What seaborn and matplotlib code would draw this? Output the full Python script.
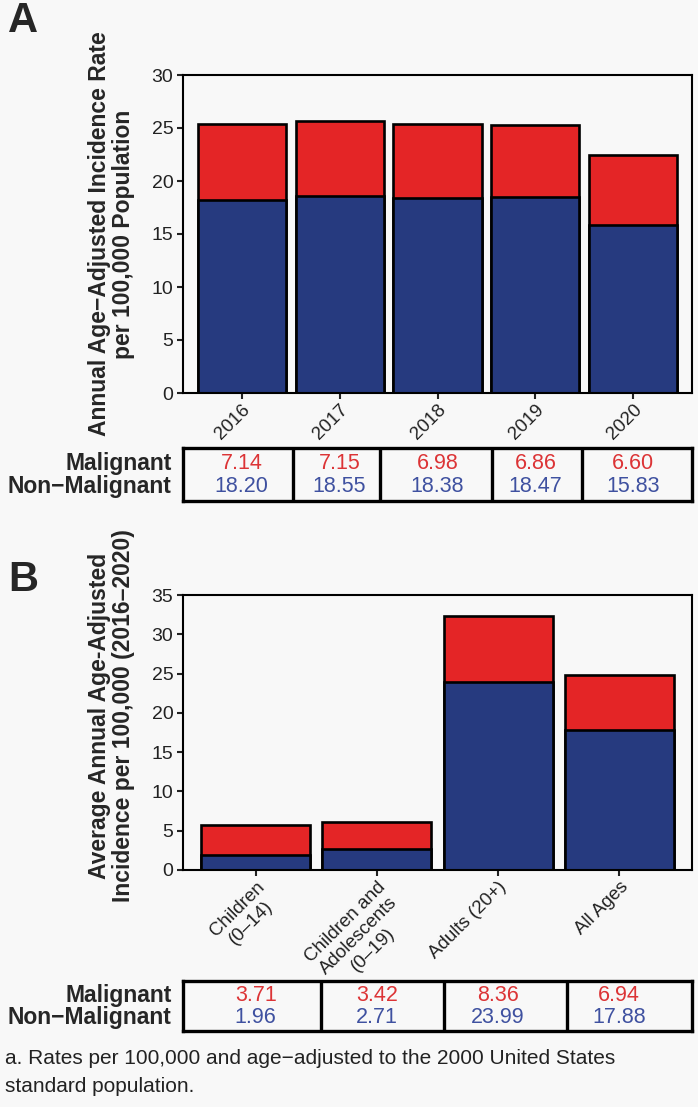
import matplotlib
matplotlib.use("Agg")
import matplotlib.pyplot as plt
import seaborn as sns

# Panel A data: annual rates
years = ["2016", "2017", "2018", "2019", "2020"]
malignant_a = [7.14, 7.15, 6.98, 6.86, 6.60]
nonmalignant_a = [18.20, 18.55, 18.38, 18.47, 15.83]

# Panel B data: average annual rates by age group
groups = ["Children\n(0\u201314)", "Children and\nAdolescents\n(0\u201319)",
          "Adults (20+)", "All Ages"]
malignant_b = [3.71, 3.42, 8.36, 6.94]
nonmalignant_b = [1.96, 2.71, 23.99, 17.88]

RED = "#e42526"
BLUE = "#263a7f"
TXT_RED = "#dc3436"
TXT_BLUE = "#3f51a0"
BG = "#f8f8f8"

sns.set_theme(style="ticks")
plt.rcParams["font.family"] = ["Liberation Sans", "DejaVu Sans"]
plt.rcParams["axes.linewidth"] = 1.5
plt.rcParams["xtick.major.width"] = 1.5
plt.rcParams["ytick.major.width"] = 1.5
plt.rcParams["xtick.major.size"] = 4
plt.rcParams["ytick.major.size"] = 4
plt.rcParams["xtick.color"] = "#222222"
plt.rcParams["ytick.color"] = "#222222"

W, H = 698, 1107
fig = plt.figure(figsize=(W / 100, H / 100), dpi=100, facecolor=BG)


def box(left, top, right, bottom):
    return [left / W, 1 - bottom / H, (right - left) / W, (bottom - top) / H]


def stacked(ax, cats, mal, nonmal, ymax, ystep):
    totals = [m + n for m, n in zip(mal, nonmal)]
    sns.barplot(x=cats, y=totals, color=RED, saturation=1, width=0.9,
                edgecolor="black", linewidth=1.9, ax=ax)
    sns.barplot(x=cats, y=nonmal, color=BLUE, saturation=1, width=0.9,
                edgecolor="black", linewidth=1.9, ax=ax)
    ax.set_facecolor(BG)
    ax.set_xlim(-0.6, len(cats) - 0.4)
    ax.set_ylim(0, ymax)
    ax.set_yticks(range(0, ymax + 1, ystep))
    ax.tick_params(axis="y", labelsize=14, pad=3)
    ax.tick_params(axis="x", labelsize=13.5, pad=2)
    for s in ax.spines.values():
        s.set_visible(True)
        s.set_color("black")
    ax.set_xlabel("")
    for lab in ax.get_xticklabels():
        lab.set_rotation(45)
        lab.set_ha("right")
        lab.set_va("top")
        lab.set_rotation_mode("anchor")
        lab.set_multialignment("center")


def table(ax, n, mal, nonmal, dividers):
    ax.set_facecolor(BG)
    ax.set_xlim(-0.6, n - 0.4)
    ax.set_ylim(0, 1)
    ax.set_xticks([])
    ax.set_yticks([])
    for s in ax.spines.values():
        s.set_visible(True)
        s.set_linewidth(2.4)
        s.set_color("black")
    for d in dividers:
        ax.axvline(d, color="black", lw=2.4)
    for i in range(n):
        ax.text(i, 0.71, f"{mal[i]:.2f}", color=TXT_RED, fontsize=15.5,
                ha="center", va="center")
        ax.text(i, 0.27, f"{nonmal[i]:.2f}", color=TXT_BLUE, fontsize=15.5,
                ha="center", va="center")
    ax.text(-0.022, 0.71, "Malignant", transform=ax.transAxes, ha="right",
            va="center", fontsize=16.5, fontweight="bold")
    ax.text(-0.022, 0.27, "Non\u2212Malignant", transform=ax.transAxes,
            ha="right", va="center", fontsize=16.5, fontweight="bold")


# Panel A
axA = fig.add_axes(box(183, 75, 692, 393))
stacked(axA, years, malignant_a, nonmalignant_a, 30, 5)
axA.set_ylabel("Annual Age\u2212Adjusted Incidence Rate\nper 100,000 Population",
               fontsize=16.5, fontweight="bold", linespacing=1.05)
axA.yaxis.set_label_coords(-0.094, 0.5)

tabA = fig.add_axes(box(183, 448, 692, 501))
table(tabA, len(years), malignant_a, nonmalignant_a, [0.52, 1.41, 2.56, 3.48])

# Panel B
axB = fig.add_axes(box(183, 595, 692, 870))
stacked(axB, groups, malignant_b, nonmalignant_b, 35, 5)
axB.set_ylabel("Average Annual Age-Adjusted\nIncidence per 100,000 (2016\u20132020)",
               fontsize=16.5, fontweight="bold", linespacing=1.05)
axB.yaxis.set_label_coords(-0.094, 0.56)

tabB = fig.add_axes(box(183, 981, 692, 1031))
table(tabB, len(groups), malignant_b, nonmalignant_b, [0.54, 1.55, 2.57])

# Panel letters and footnote
fig.text(8 / W, 1 - 21 / H, "A", fontsize=30, fontweight="bold", va="center")
fig.text(8 / W, 1 - 580 / H, "B", fontsize=30, fontweight="bold", va="center")
fig.text(5 / W, 1 - 1058 / H,
         "a. Rates per 100,000 and age\u2212adjusted to the 2000 United States",
         fontsize=15, va="center", ha="left", color="#222222")
fig.text(5 / W, 1 - 1086 / H, "standard population.",
         fontsize=15, va="center", ha="left", color="#222222")

fig.savefig("out.png", dpi=100, facecolor=BG)
